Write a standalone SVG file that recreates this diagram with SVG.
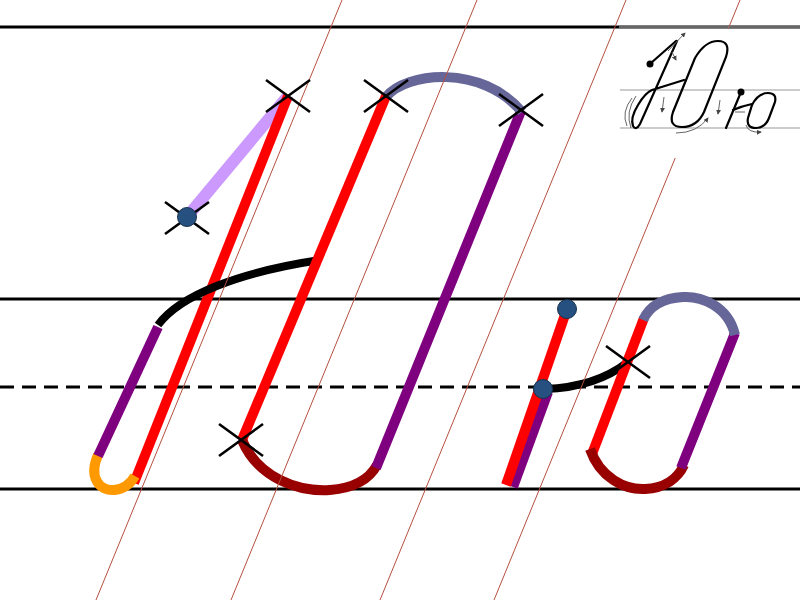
<svg xmlns="http://www.w3.org/2000/svg" width="800" height="600" viewBox="0 0 800 600">
<defs>
<style>
.rule{stroke:#000;stroke-width:3;fill:none}
.slant{stroke:#b5503f;stroke-width:1;fill:none}
.st{fill:none;stroke-width:10;stroke-linecap:butt}
.red{stroke:#ff0000}
.pur{stroke:#7f007f}
.ora{stroke:#ff9900}
.dred{stroke:#990000}
.slate{stroke:#666699}
.lav{stroke:#cc99ff;stroke-width:12}
.blk{stroke:#000;stroke-width:8}
.x{stroke:#000;stroke-width:2.5}
.dot{fill:#26507f;stroke:#17314f;stroke-width:1}
.sk{fill:none;stroke:#000;stroke-width:2.2;stroke-linecap:round}
.sg{fill:none;stroke:#666;stroke-width:1}
</style>
<marker id="ah" viewBox="0 0 6 6" refX="5" refY="3" markerWidth="5" markerHeight="5" orient="auto"><path d="M0 0 L6 3 L0 6 Z" fill="#444"/></marker>
<g id="xm"><line x1="-22" y1="-16" x2="22" y2="16"/><line x1="-22" y1="16" x2="22" y2="-16"/></g>
</defs>
<rect width="800" height="600" fill="#fff"/>
<g id="rules">
<line class="rule" x1="0" y1="27" x2="800" y2="27"/>
<line class="rule" x1="0" y1="299" x2="800" y2="299" stroke-width="2.5"/>
<line class="rule" x1="0" y1="387" x2="800" y2="387" stroke-width="2.5" stroke-dasharray="14 8"/>
<line class="rule" x1="0" y1="489" x2="800" y2="489"/>
</g>
<g id="letter-Yu-big">
<line class="st lav" x1="187" y1="217" x2="288" y2="96"/>
<line class="st red" x1="288" y1="96" x2="134" y2="483"/>
<path class="st ora" d="M98 455 C88 478 100 491 114 490 C125 489 131 483 135 476"/>
<line class="st pur" x1="98" y1="456" x2="158" y2="327"/>
<path class="st blk" d="M158 325 C180 295 240 272 320 260"/>
<line class="st red" x1="386" y1="96" x2="242" y2="440"/>
<path class="st dred" d="M242 440 C258 478 298 492 330 490 C355 488 370 478 377 465"/>
<line class="st pur" x1="376" y1="468" x2="521" y2="111"/>
<path class="st slate" d="M386 97 C406 72 482 64 522 112"/>
</g>
<g id="letter-yu-small">
<line class="st pur" x1="548" y1="392" x2="513" y2="487"/>
<line class="st red" x1="567" y1="309" x2="506" y2="485"/>
<path class="st blk" d="M545 389 C575 388 605 380 628 362" stroke-width="7"/>
<line class="st red" x1="644" y1="318" x2="592" y2="454"/>
<path class="st dred" d="M590 449 C600 478 625 490 645 489 C665 488 678 478 684 465"/>
<line class="st pur" x1="681" y1="468" x2="735" y2="333"/>
<path class="st slate" d="M735 335 C728 305 700 296 683 297 C665 298 650 305 643 320"/>
</g>
<g id="slant-lines">
<line class="slant" x1="342" y1="0" x2="96" y2="600"/>
<line class="slant" x1="477" y1="0" x2="231" y2="600"/>
<line class="slant" x1="626" y1="0" x2="380" y2="600"/>
<line class="slant" x1="740" y1="0" x2="494" y2="600"/>
</g>
<g id="marks">
<use href="#xm" class="x" x="288" y="96"/>
<use href="#xm" class="x" x="187" y="218"/>
<use href="#xm" class="x" x="386" y="96"/>
<use href="#xm" class="x" x="521" y="110"/>
<use href="#xm" class="x" x="241" y="440"/>
<use href="#xm" class="x" x="628" y="362"/>
<circle class="dot" cx="187" cy="217" r="9.5"/>
<circle class="dot" cx="567" cy="309" r="9.5"/>
<circle class="dot" cx="543" cy="389" r="9.5"/>
</g>
<g id="sample">
<rect x="619" y="29" width="181" height="129" fill="#fff"/>
<line x1="619" y1="27" x2="800" y2="27" stroke="#888" stroke-width="1.5"/>
<line x1="620" y1="90" x2="800" y2="90" stroke="#999" stroke-width="1.2"/>
<line x1="620" y1="128" x2="800" y2="128" stroke="#999" stroke-width="1.2"/>
<circle cx="650" cy="64" r="3.5" fill="#000"/>
<path class="sk" d="M651 63 L676 41"/>
<path class="sk" d="M677 41 L640 124 Q636 131 633 126 Q630 118 638 105 Q645 93 652 90 Q665 86 684 80"/>
<path class="sk" d="M718 41 Q705 41 695 58 L673 112 Q668 127 682 127 Q697 127 704 112 L726 57 Q731 41 718 41"/>
<circle cx="741" cy="92" r="3.5" fill="#000"/>
<path class="sk" d="M741 92 L726 128"/>
<path class="sk" d="M733 110 Q742 106 752 104"/>
<path class="sk" d="M768 93 Q758 93 752 105 L748 118 Q746 128 756 128 Q765 128 769 118 L775 102 Q777 93 768 93"/>
<path class="sg" d="M668 51 L685 33" marker-end="url(#ah)"/>
<path class="sg" d="M672 52 L676 60" marker-end="url(#ah)"/>
<path class="sg" d="M636 96 Q625 112 631 128"/>
<path class="sg" d="M632 98 Q621 112 627 126"/>
<path class="sg" d="M664 97 L662 112" marker-end="url(#ah)"/>
<path class="sg" d="M676 133 Q697 133 708 118" marker-end="url(#ah)"/>
<path class="sg" d="M720 100 L718 114" marker-end="url(#ah)"/>
<path class="sg" d="M735 112 L745 112"/>
<path class="sg" d="M746 125 Q748 133 761 132" marker-end="url(#ah)"/>
</g>
</svg>
